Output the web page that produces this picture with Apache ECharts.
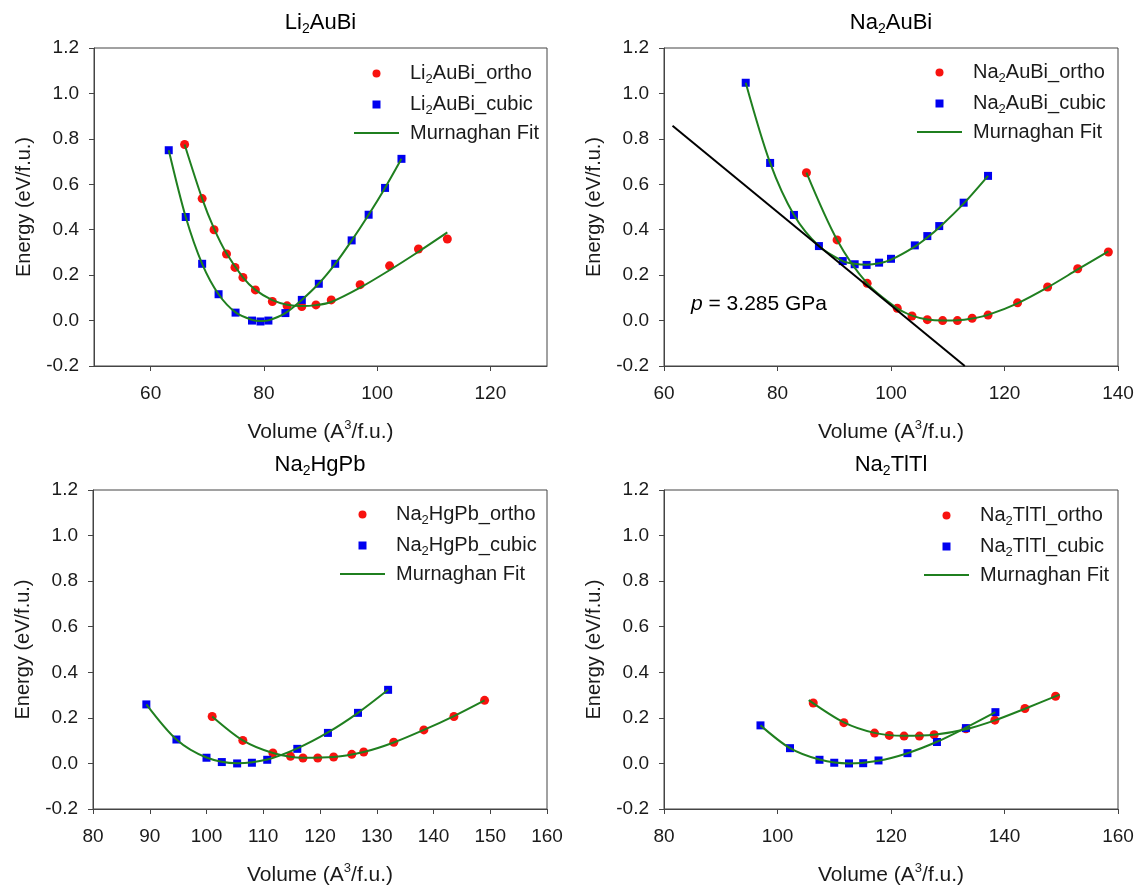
<!DOCTYPE html>
<html><head><meta charset="utf-8">
<script src="https://cdn.jsdelivr.net/npm/echarts@6/dist/echarts.min.js"></script>
<style>html,body{margin:0;padding:0;background:#fff}#c{width:1138px;height:886px}</style>
</head><body><div id="c"></div>
<script>
// ---------- data (volume Å^3/f.u., energy eV/f.u.) ----------
const compounds = ['Li2AuBi', 'Na2AuBi', 'Na2HgPb', 'Na2TlTl'];
const xMin = [50, 60, 80, 80];
const xMax = [130, 140, 160, 160];
const xStep = [10, 20, 10, 20];
const xTickLabels = [[60, 80, 100, 120], [60, 80, 100, 120, 140],
  [80, 90, 100, 110, 120, 130, 140, 150, 160], [80, 100, 120, 140, 160]];
const yMin = -0.2, yMax = 1.2, yStep = 0.2;

const liOrtho = [[66.0,0.775],[69.1,0.537],[71.2,0.400],[73.4,0.293],[74.9,0.234],[76.3,0.190],[78.5,0.135],[81.5,0.084],[84.1,0.065],[86.7,0.062],[89.2,0.069],[91.9,0.091],[97.0,0.158],[102.2,0.241],[107.3,0.315],[112.4,0.359]];
const liCubic = [[63.2,0.750],[66.2,0.456],[69.1,0.250],[72.0,0.116],[75.0,0.035],[77.9,0.000],[79.4,-0.004],[80.8,0.000],[83.8,0.033],[86.7,0.091],[89.7,0.162],[92.6,0.250],[95.5,0.353],[98.5,0.466],[101.4,0.584],[104.3,0.712]];
const liOrthoFit = [[66.0,0.775],[69.1,0.537],[71.2,0.405],[73.4,0.296],[76.3,0.190],[78.5,0.135],[81.5,0.090],[84.1,0.070],[86.7,0.064],[89.2,0.068],[91.9,0.082],[97.0,0.145],[102.2,0.222],[107.3,0.303],[112.4,0.388]];
const liCubicFit = [[63.2,0.750],[66.2,0.456],[69.1,0.250],[72.0,0.116],[75.0,0.036],[77.9,0.003],[79.4,-0.002],[80.8,0.001],[83.8,0.033],[86.7,0.091],[89.7,0.163],[92.6,0.250],[95.5,0.352],[98.5,0.466],[101.4,0.584],[104.3,0.712]];

const naAuOrtho = [[85.1,0.651],[90.5,0.355],[95.8,0.164],[101.1,0.054],[103.7,0.020],[106.4,0.004],[109.1,0.000],[111.7,0.000],[114.3,0.010],[117.1,0.024],[122.3,0.078],[127.6,0.148],[132.9,0.228],[138.3,0.302]];
const naAuCubic = [[74.4,1.047],[78.7,0.694],[82.9,0.465],[87.3,0.328],[91.5,0.262],[93.6,0.248],[95.7,0.245],[97.9,0.255],[100.0,0.272],[104.2,0.331],[106.4,0.372],[108.5,0.416],[112.8,0.519],[117.1,0.637]];
const naAuOrthoFit = [[85.1,0.651],[90.5,0.355],[95.8,0.164],[101.1,0.054],[103.7,0.022],[106.4,0.005],[109.1,0.000],[111.7,0.001],[114.3,0.009],[117.1,0.025],[122.3,0.076],[127.6,0.146],[132.9,0.225],[138.3,0.305]];
const naAuCubicFit = [[74.4,1.047],[78.7,0.694],[82.9,0.465],[87.3,0.328],[91.5,0.262],[93.6,0.250],[95.7,0.246],[97.9,0.252],[100.0,0.268],[104.2,0.326],[106.4,0.366],[108.5,0.410],[112.8,0.515],[117.1,0.637]];
const tangentLine = [[61.5,0.858],[113.0,-0.2]];
const pressureText = '3.285 GPa';

const naHgOrtho = [[101.0,0.206],[106.4,0.101],[111.7,0.046],[114.8,0.031],[117.0,0.024],[119.6,0.024],[122.4,0.028],[125.6,0.040],[127.7,0.050],[133.0,0.093],[138.3,0.147],[143.6,0.206],[149.0,0.277]];
const naHgCubic = [[89.4,0.259],[94.7,0.105],[100.0,0.025],[102.7,0.006],[105.4,0.000],[108.0,0.003],[110.7,0.016],[116.0,0.064],[121.4,0.134],[126.7,0.222],[132.0,0.323]];
const naHgOrthoFit = [[101.0,0.206],[106.4,0.101],[111.7,0.046],[117.0,0.025],[122.4,0.028],[127.7,0.050],[133.0,0.092],[138.3,0.147],[143.6,0.208],[149.0,0.277]];
const naHgCubicFit = [[89.4,0.259],[94.7,0.105],[100.0,0.026],[105.4,0.001],[110.7,0.017],[116.0,0.066],[121.4,0.136],[126.7,0.222],[132.0,0.323]];

const naTlOrtho = [[106.3,0.265],[111.7,0.179],[117.1,0.133],[119.7,0.123],[122.3,0.120],[125.0,0.120],[127.6,0.126],[133.2,0.152],[138.3,0.190],[143.6,0.241],[149.0,0.295]];
const naTlCubic = [[97.0,0.167],[102.2,0.067],[107.4,0.016],[110.0,0.003],[112.6,0.000],[115.1,0.001],[117.8,0.013],[122.9,0.045],[128.1,0.094],[133.2,0.155],[138.4,0.225]];
const naTlOrthoFit = [[105.5,0.278],[111.7,0.180],[117.1,0.134],[122.3,0.121],[127.6,0.126],[133.2,0.150],[138.3,0.189],[143.6,0.240],[149.7,0.302]];
const naTlCubicFit = [[97.0,0.167],[102.2,0.067],[107.4,0.017],[112.6,0.000],[117.8,0.012],[122.9,0.045],[128.1,0.095],[133.2,0.157],[138.4,0.225]];

const orthoData = [liOrtho, naAuOrtho, naHgOrtho, naTlOrtho];
const cubicData = [liCubic, naAuCubic, naHgCubic, naTlCubic];
const orthoFits = [liOrthoFit, naAuOrthoFit, naHgOrthoFit, naTlOrthoFit];
const cubicFits = [liCubicFit, naAuCubicFit, naHgCubicFit, naTlCubicFit];

// ---------- styling / layout ----------
const F = 'Liberation Sans, Arial, sans-serif';
const TXT = '#1a1a1a', AX = '#444';
const RED = '#f8120f', BLUE = '#0000f0', GREEN = '#1f7f1f';
const grids = [
  {left: 94, top: 48, width: 453, height: 318},
  {left: 664, top: 48, width: 454, height: 318},
  {left: 93, top: 490, width: 454, height: 319},
  {left: 664, top: 490, width: 454, height: 319}
];
const legendPos = [[354, 61], [917, 60], [340, 502], [924, 503]];

function subFmt(name) {
  const m = name.match(/^([A-Z][a-z]?)2(.*)$/);
  return m ? '{n|' + m[1] + '}{s|2}{n|' + m[2] + '}' : '{n|' + name + '}';
}
function richSet(size, sub) {
  return {
    g: {width: 6},
    n: {fontSize: size, fontFamily: F, color: TXT, lineHeight: size + 3},
    s: {fontSize: Math.round(size * 0.65), fontFamily: F, color: TXT, lineHeight: size + 3, padding: [sub, 0, 0, 0]},
    p: {fontSize: Math.round(size * 0.62), fontFamily: F, color: TXT, lineHeight: size + 3, padding: [0, 0, sub, 0]},
    i: {fontSize: size, fontFamily: F, color: TXT, fontStyle: 'italic', lineHeight: size + 3}
  };
}

const option = {
  animation: false,
  backgroundColor: '#fff',
  grid: grids.map(g => Object.assign({show: true, borderColor: AX, borderWidth: 1, backgroundColor: 'transparent',
    containLabel: false, outerBoundsMode: 'none'}, g)),
  xAxis: grids.map((g, i) => ({
    type: 'value', gridIndex: i, min: xMin[i], max: xMax[i], interval: xStep[i],
    name: '{n|Volume (A}{p|3}{n|/f.u.)}', nameLocation: 'middle', nameGap: 54,
    nameTextStyle: {rich: richSet(21, 14)},
    axisLine: {show: true, onZero: false, lineStyle: {color: AX, width: 1}},
    axisTick: {show: true, inside: false, length: 5, lineStyle: {color: AX}, customValues: xTickLabels[i]},
    axisLabel: {fontSize: 19, fontFamily: F, color: TXT, margin: 18, customValues: xTickLabels[i]},
    splitLine: {show: false}
  })),
  yAxis: grids.map((g, i) => ({
    type: 'value', gridIndex: i, min: yMin, max: yMax, interval: yStep,
    name: 'Energy (eV/f.u.)', nameLocation: 'middle', nameGap: 60, nameRotate: 90,
    nameTextStyle: {fontSize: 20, fontFamily: F, color: TXT},
    axisLine: {show: true, onZero: false, lineStyle: {color: AX, width: 1}},
    axisTick: {show: true, inside: false, length: 5, lineStyle: {color: AX}},
    axisLabel: {fontSize: 19, fontFamily: F, color: TXT, margin: 15, formatter: v => v.toFixed(1)},
    splitLine: {show: false}
  })),
  legend: compounds.map((c, i) => ({
    orient: 'vertical', left: legendPos[i][0], top: legendPos[i][1], padding: 0,
    itemWidth: 45, itemHeight: 8, itemGap: 6, symbolKeepAspect: true, selectedMode: false,
    data: [
      {name: c + '_ortho', icon: 'circle', itemStyle: {color: RED, opacity: 1}},
      {name: c + '_cubic', icon: 'path://M0,0h10v10h-10z', itemStyle: {color: BLUE, opacity: 1}},
      {name: 'Murnaghan Fit', icon: 'path://M0,0h45v2h-45z', itemStyle: {color: GREEN, opacity: 1}}
    ],
    formatter: name => '{g|}' + subFmt(name),
    textStyle: {rich: richSet(20, 12)}
  })),
  graphic: compounds.map((c, i) => ({
    type: 'text', x: grids[i].left + grids[i].width / 2, y: grids[i].top - 25,
    style: {text: subFmt(c), rich: richSet(22, 12), align: 'center', verticalAlign: 'middle'}
  })).concat([{
    type: 'text', x: 691, y: 304,
    style: {text: '{i|p}{n| = ' + pressureText + '}', rich: richSet(21, 0), align: 'left', verticalAlign: 'middle'}
  }]),
  series: []
};

compounds.forEach((c, i) => {
  option.series.push({
    type: 'scatter', name: c + '_ortho', xAxisIndex: i, yAxisIndex: i, data: orthoData[i],
    symbol: 'circle', symbolSize: 9, itemStyle: {color: RED, opacity: 1}, z: 2
  });
  option.series.push({
    type: 'scatter', name: c + '_cubic', xAxisIndex: i, yAxisIndex: i, data: cubicData[i],
    symbol: 'rect', symbolSize: 8, itemStyle: {color: BLUE, opacity: 1}, z: 2
  });
  [orthoFits[i], cubicFits[i]].forEach(fit => option.series.push({
    type: 'line', name: 'Murnaghan Fit', xAxisIndex: i, yAxisIndex: i, data: fit,
    showSymbol: false, symbol: 'none', smooth: 0.3,
    lineStyle: {color: GREEN, width: 2}, itemStyle: {color: GREEN}, z: 3
  }));
});
option.series.push({
  type: 'line', name: 'Tangent', xAxisIndex: 1, yAxisIndex: 1, data: tangentLine,
  showSymbol: false, symbol: 'none', lineStyle: {color: '#000', width: 2}, z: 4
});

const chart = echarts.init(document.getElementById('c'), null, {renderer: 'canvas'});
chart.setOption(option);
</script>
</body></html>
